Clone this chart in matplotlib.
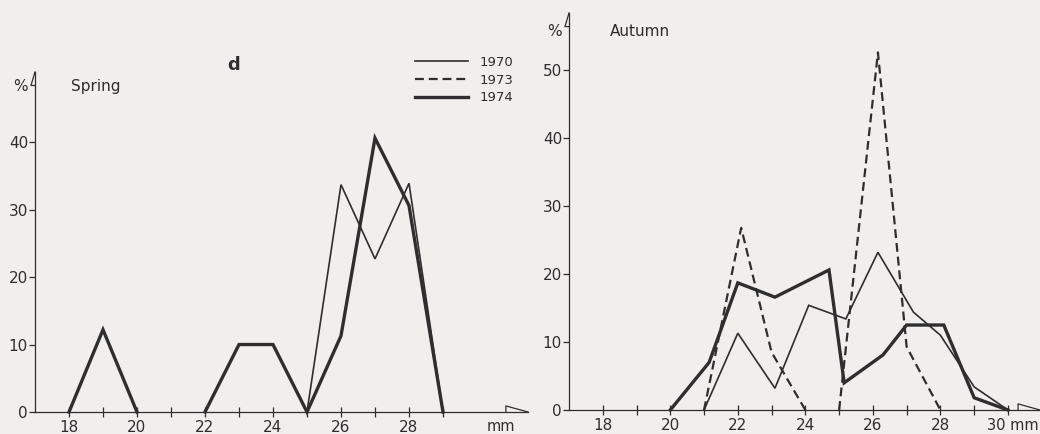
import numpy as np
import matplotlib.pyplot as plt

nan = np.nan

# Spring (left panel)
spring_x_1974 = [18, 19, 20, 21, 22, 23, 24, 25, 26, 27, 28, 29]
spring_1974 = [0, 12.2, 0, nan, 0, 10, 10, 0, 11.3, 40.6, 30.6, 0]
spring_x_1970 = [25, 26, 27, 28, 29]
spring_1970 = [0, 33.7, 22.7, 33.9, 0]

# Autumn (right panel)
autumn_x_1970 = [21, 22, 23.1, 24.1, 25.2, 26.15, 27.2, 28, 29, 30]
autumn_1970 = [0, 11.3, 3.2, 15.4, 13.4, 23.2, 14.4, 11, 3.4, 0]
autumn_x_1973 = [21, 22.1, 23, 24, 24.5, 25, 26.15, 27, 28]
autumn_1973 = [0, 26.8, 8.5, 0, nan, 0, 52.6, 9.3, 0]
autumn_x_1974 = [20, 21.15, 22, 23.1, 24.7, 25.15, 26.3, 27, 28.1, 29, 30]
autumn_1974 = [0, 7, 18.7, 16.6, 20.6, 4, 8.1, 12.5, 12.5, 1.8, 0]

years = ['1970', '1973', '1974']
x_major = [18, 20, 22, 24, 26, 28]
x_minor = [19, 21, 23, 25, 27, 29]

bg = '#f0efeb'
ink = '#2e2e2e'
W, H = 1040, 434

fig = plt.figure(figsize=(W / 100, H / 100), dpi=100, facecolor=bg)

# axes placed in pixels
ax1 = fig.add_axes([35 / W, 1 - 412 / H, 493 / W, 340 / H])
ax2 = fig.add_axes([569 / W, 1 - 410 / H, 471 / W, 397 / H])
ax1.set_xlim(17, 31.5)
ax1.set_ylim(0, 50.4)
ax2.set_xlim(17, 30.95)
ax2.set_ylim(0, 58.4)

thin = dict(color=ink, lw=1.2, clip_on=False, solid_joinstyle='miter')
dash = dict(color=ink, lw=1.6, ls=(0, (4, 2.2)), clip_on=False)
thick = dict(color=ink, lw=2.4, clip_on=False, solid_joinstyle='miter')

ax1.plot(spring_x_1970, spring_1970, **thin)
ax1.plot(spring_x_1974, spring_1974, **thick)

h1, = ax2.plot(autumn_x_1970, autumn_1970, **thin)
h2, = ax2.plot(autumn_x_1973, autumn_1973, **dash)
h3, = ax2.plot(autumn_x_1974, autumn_1974, **thick)

for ax, yt in ((ax1, [0, 10, 20, 30, 40]), (ax2, [0, 10, 20, 30, 40, 50])):
    ax.set_facecolor('none')
    for s in ('top', 'right'):
        ax.spines[s].set_visible(False)
    for s in ('left', 'bottom'):
        ax.spines[s].set_color(ink)
        ax.spines[s].set_linewidth(0.9)
    ax.set_yticks(yt)
    ax.set_xticks(x_major)
    ax.set_xticks(x_minor, minor=True)
    ax.tick_params(axis='y', direction='out', length=4, width=0.9, pad=1,
                   labelsize=11, colors=ink)
    ax.tick_params(axis='x', which='both', direction='inout', length=7, width=0.9,
                   pad=2.5, labelsize=11, colors=ink)
    xl, yl = ax.get_xlim(), ax.get_ylim()
    # half arrows at the end of the axes
    ax.plot([xl[1] - 0.65, xl[1] - 0.65, xl[1]], [0, 0.9, 0], color=ink, lw=0.9, clip_on=False)
    ax.plot([xl[0], xl[0] - 0.12, xl[0]], [yl[1], yl[1] - 2.0, yl[1] - 2.0],
            color=ink, lw=0.9, clip_on=False)

# tick at 30 on the right panel, label written as text so it fits
ax2.set_xticks(x_major + [30])
ax2.set_xticklabels([str(v) for v in x_major] + [''])
ax2.text(29.37, -2.3, '30 mm', fontsize=10.5, color=ink, ha='left', va='center')

ax1.text(30.7, -2.2, 'mm', fontsize=10.5, color=ink, ha='center', va='center')
ax1.text(16.78, 48.2, '%', fontsize=11, color=ink, ha='right', va='center')
ax1.text(18.05, 48.2, 'Spring', fontsize=11, color=ink, ha='left', va='center')
ax1.text(22.85, 51.5, 'd', fontsize=13, fontweight='bold', color=ink, ha='center', va='center')
ax2.text(16.78, 55.7, '%', fontsize=11, color=ink, ha='right', va='center')
ax2.text(18.2, 55.7, 'Autumn', fontsize=11, color=ink, ha='left', va='center')

fig.legend([h1, h2, h3], years, loc='upper left', bbox_to_anchor=(415 / W, 1 - 56 / H),
           frameon=False, fontsize=9.5, handlelength=4.0, handletextpad=0.9,
           borderpad=0, borderaxespad=0, labelspacing=0.35, labelcolor=ink)

fig.savefig('out.png', dpi=100, facecolor=bg)
